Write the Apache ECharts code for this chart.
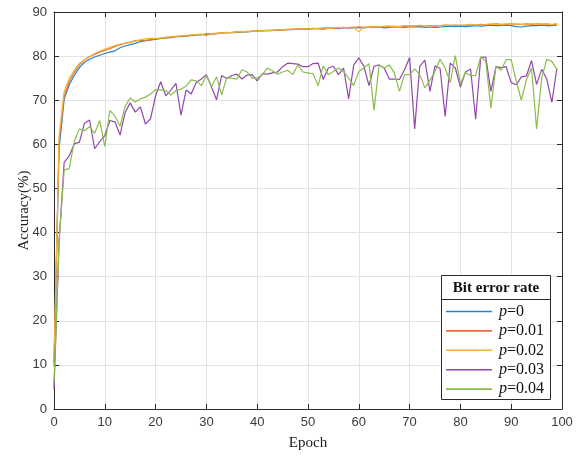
<!DOCTYPE html>
<html><head><meta charset="utf-8">
<script src="https://cdn.jsdelivr.net/npm/echarts@6/dist/echarts.min.js"></script>
<style>html,body{margin:0;padding:0;background:#fff}#c{width:586px;height:456px}</style>
</head><body><div id="c"></div>
<script>
// x positions: epoch index 0..99
const epochs = [];
for (let i = 0; i < 100; i++) epochs.push(i);

const seriesNames = ['p=0', 'p=0.01', 'p=0.02', 'p=0.03', 'p=0.04'];
const legendTitle = 'Bit error rate';
const xTickValues = [0, 10, 20, 30, 40, 50, 60, 70, 80, 90, 100];
const yTickValues = [0, 10, 20, 30, 40, 50, 60, 70, 80, 90];

const acc_p0 = [
  10.5, 59.0, 70.2, 73.5, 75.6, 77.4, 78.6, 79.3, 79.8, 80.2,
  80.6, 80.9, 81.2, 81.9, 82.3, 82.6, 82.9, 83.3, 83.5, 83.7,
  83.8, 84.0, 84.1, 84.2, 84.4, 84.4, 84.5, 84.7, 84.8, 84.8,
  85.0, 85.0, 85.1, 85.2, 85.3, 85.3, 85.4, 85.5, 85.5, 85.6,
  85.7, 85.7, 85.8, 85.8, 85.9, 85.9, 86.0, 86.0, 86.1, 86.1,
  86.1, 86.2, 86.2, 86.1, 86.3, 86.3, 86.2, 86.4, 86.4, 86.4,
  86.5, 86.4, 86.5, 86.5, 86.6, 86.4, 86.5, 86.6, 86.6, 86.5,
  86.7, 86.6, 86.7, 86.5, 86.6, 86.5, 86.6, 86.7, 86.8, 86.7,
  86.8, 86.7, 86.8, 86.9, 86.8, 86.9, 87.0, 86.9, 86.9, 87.0,
  86.9, 86.7, 86.6, 86.8, 86.9, 86.9, 87.0, 86.9, 86.9, 87.0
];
const acc_p001 = [
  9.5, 60.5, 71.0, 74.2, 76.3, 78.0, 79.2, 79.9, 80.4, 80.9,
  81.3, 81.7, 82.2, 82.6, 82.9, 83.2, 83.5, 83.6, 83.5, 83.7,
  83.9, 84.0, 84.1, 84.3, 84.4, 84.5, 84.6, 84.7, 84.8, 84.9,
  85.0, 85.1, 85.1, 85.3, 85.3, 85.4, 85.5, 85.5, 85.6, 85.6,
  85.7, 85.8, 85.8, 85.9, 85.9, 86.0, 86.0, 86.1, 86.1, 86.2,
  86.2, 86.3, 86.2, 86.3, 86.4, 86.3, 86.4, 86.5, 86.4, 86.5,
  86.6, 86.5, 86.6, 86.7, 86.6, 86.7, 86.8, 86.7, 86.7, 86.8,
  86.8, 86.9, 86.8, 86.9, 86.9, 86.8, 86.9, 87.0, 87.0, 86.9,
  87.0, 87.0, 87.1, 87.0, 87.2, 87.1, 87.2, 87.3, 87.2, 87.2,
  87.3, 87.2, 87.2, 87.3, 87.2, 87.3, 87.2, 87.3, 87.1, 87.3
];
const acc_p002 = [
  11.0, 62.0, 72.0, 75.0, 76.8, 78.4, 79.1, 79.8, 80.6, 81.1,
  81.6, 82.0, 82.4, 82.7, 82.9, 83.1, 83.4, 83.7, 83.9, 84.0,
  84.0, 84.1, 84.3, 84.4, 84.5, 84.6, 84.7, 84.8, 84.9, 85.0,
  84.6, 85.1, 85.2, 85.2, 85.4, 85.3, 85.5, 85.6, 85.5, 85.7,
  85.6, 85.8, 85.9, 85.8, 86.0, 85.9, 86.1, 86.0, 86.2, 86.1,
  86.2, 86.3, 86.3, 86.4, 86.3, 86.4, 86.5, 86.4, 86.5, 86.6,
  85.5, 86.6, 86.5, 86.7, 86.6, 86.8, 86.7, 86.8, 86.7, 86.9,
  86.8, 86.9, 87.0, 86.9, 86.8, 87.0, 86.9, 87.1, 87.0, 87.1,
  87.0, 87.1, 87.2, 87.1, 87.0, 87.2, 87.3, 87.2, 87.1, 87.3,
  87.2, 87.3, 87.2, 87.1, 87.3, 87.2, 87.3, 87.2, 87.2, 87.3
];
const acc_p003 = [
  4.5, 38.0, 55.9, 57.4, 60.1, 60.5, 64.8, 65.5, 59.0, 60.6,
  62.0, 65.4, 65.1, 62.1, 67.2, 69.4, 67.3, 68.5, 64.6, 65.8,
  71.0, 74.2, 71.0, 72.3, 73.8, 66.6, 72.3, 71.4, 74.0, 74.8,
  75.8, 73.0, 70.1, 75.6, 74.9, 75.6, 75.9, 74.8, 75.7, 75.8,
  74.4, 76.0, 75.9, 76.2, 76.4, 77.6, 78.4, 78.3, 78.2, 77.6,
  77.6, 78.3, 78.4, 74.7, 77.3, 77.7, 75.8, 77.3, 70.3, 78.0,
  79.6, 77.7, 73.3, 77.7, 78.0, 77.3, 74.8, 74.8, 74.7, 76.9,
  79.7, 63.5, 77.7, 79.1, 72.0, 77.8, 77.2, 66.3, 78.4, 77.3,
  73.0, 76.4, 77.1, 65.7, 79.7, 79.8, 72.0, 77.6, 77.4, 77.6,
  74.0, 73.5, 75.3, 75.5, 79.0, 73.6, 77.0, 74.8, 69.5, 77.3
];
const acc_p004 = [
  6.0, 38.0, 54.2, 54.5, 60.7, 63.5, 63.1, 64.0, 62.5, 65.4,
  59.5, 67.7, 66.4, 64.1, 68.6, 70.5, 69.6, 70.3, 70.7, 71.4,
  72.4, 72.3, 72.2, 71.2, 72.2, 72.5, 73.2, 74.6, 74.4, 73.3,
  75.6, 73.1, 75.3, 71.2, 75.1, 75.0, 74.8, 76.9, 76.4, 75.0,
  75.0, 75.8, 77.3, 76.7, 75.9, 76.4, 76.8, 75.8, 78.0, 76.4,
  76.2, 76.0, 73.3, 77.8, 75.8, 76.5, 77.3, 76.5, 75.0, 73.3,
  76.5, 77.3, 78.3, 67.7, 78.0, 77.3, 78.0, 76.2, 72.0, 75.8,
  75.8, 77.1, 75.8, 72.8, 74.5, 76.5, 79.3, 77.3, 74.0, 80.1,
  73.6, 76.3, 75.6, 75.6, 79.8, 78.8, 68.2, 77.7, 76.8, 79.2,
  79.2, 74.3, 70.0, 74.7, 77.3, 63.5, 75.0, 79.3, 78.8, 76.9
];

const allSeries = [acc_p0, acc_p001, acc_p002, acc_p003, acc_p004];
const colors = ['#2a82c9', '#e2703a', '#f0b23a', '#9148ab', '#8abd4a'];

const chart = echarts.init(document.getElementById('c'), null, { renderer: 'canvas' });
const axisColor = '#2b2b2b';
const gridColor = '#e2e2e2';
const tickFont = { color: '#3a3a3a', fontSize: 13, fontFamily: 'Liberation Sans' };
const serif = 'Liberation Serif';

function frameAxis(pos, arr) {
  return {
    type: 'value', min: arr[0], max: arr[arr.length - 1], interval: 10,
    position: pos,
    axisLine: { show: true, onZero: false, lineStyle: { color: axisColor, width: 1 } },
    axisTick: { show: true, inside: true, length: 5, lineStyle: { color: axisColor } },
    axisLabel: { show: false },
    splitLine: { show: false }
  };
}

const option = {
  animation: false,
  backgroundColor: '#fff',
  grid: { left: 54, top: 12, right: 24, bottom: 45, containLabel: false },
  xAxis: [
    {
      type: 'value', min: xTickValues[0], max: xTickValues[xTickValues.length - 1], interval: 10,
      position: 'bottom',
      axisLine: { show: true, onZero: false, lineStyle: { color: axisColor, width: 1 } },
      axisTick: { show: true, inside: true, length: 5, lineStyle: { color: axisColor } },
      axisLabel: Object.assign({ margin: 7 }, tickFont),
      splitLine: { show: true, lineStyle: { color: gridColor, width: 1 } },
      name: 'Epoch', nameLocation: 'middle', nameGap: 27, nameMoveOverlap: false,
      nameTextStyle: { fontFamily: serif, fontSize: 15, color: '#222' }
    },
    frameAxis('top', xTickValues)
  ],
  yAxis: [
    {
      type: 'value', min: yTickValues[0], max: yTickValues[yTickValues.length - 1], interval: 10,
      position: 'left',
      axisLine: { show: true, onZero: false, lineStyle: { color: axisColor, width: 1 } },
      axisTick: { show: true, inside: true, length: 5, lineStyle: { color: axisColor } },
      axisLabel: Object.assign({ margin: 7 }, tickFont),
      splitLine: { show: true, lineStyle: { color: gridColor, width: 1 } },
      name: 'Accuracy(%)', nameLocation: 'middle', nameGap: 22, nameRotate: 90, nameMoveOverlap: false,
      nameTextStyle: { fontFamily: serif, fontSize: 15, color: '#222' }
    },
    frameAxis('right', yTickValues)
  ],
  graphic: {
    elements: [
      {
        type: 'rect', z: 50,
        shape: { x: 441.5, y: 275.5, width: 109, height: 124 },
        style: { fill: '#fff', stroke: axisColor, lineWidth: 1 }
      },
      {
        type: 'line', z: 51,
        shape: { x1: 441.5, y1: 299.5, x2: 550.5, y2: 299.5 },
        style: { stroke: axisColor, lineWidth: 1 }
      },
      {
        type: 'text', z: 52,
        style: {
          text: legendTitle, x: 496, y: 288, align: 'center', verticalAlign: 'middle',
          fill: '#111', font: 'bold 15px "Liberation Serif"'
        }
      }
    ]
  },
  legend: {
    z: 60,
    orient: 'vertical',
    left: 446, top: 303.5,
    icon: 'rect',
    itemWidth: 46, itemHeight: 1.6, itemGap: 3.4,
    padding: 0,
    data: seriesNames,
    formatter: function (name) { return '{i|p}' + name.slice(1); },
    textStyle: {
      fontFamily: serif, fontSize: 16, color: '#111', lineHeight: 16, padding: [0, 0, 0, 2],
      rich: { i: { fontFamily: serif, fontSize: 16, fontStyle: 'italic', color: '#111', lineHeight: 16 } }
    }
  },
  series: seriesNames.map(function (n, k) {
    return {
      name: n, type: 'line', xAxisIndex: 0, yAxisIndex: 0,
      data: epochs.map(function (e, i) { return [e, allSeries[k][i]]; }),
      symbol: 'none', smooth: false,
      lineStyle: { color: colors[k], width: 1.2 },
      itemStyle: { color: colors[k] },
      z: 2 + k
    };
  })
};
chart.setOption(option);
</script>
</body></html>
